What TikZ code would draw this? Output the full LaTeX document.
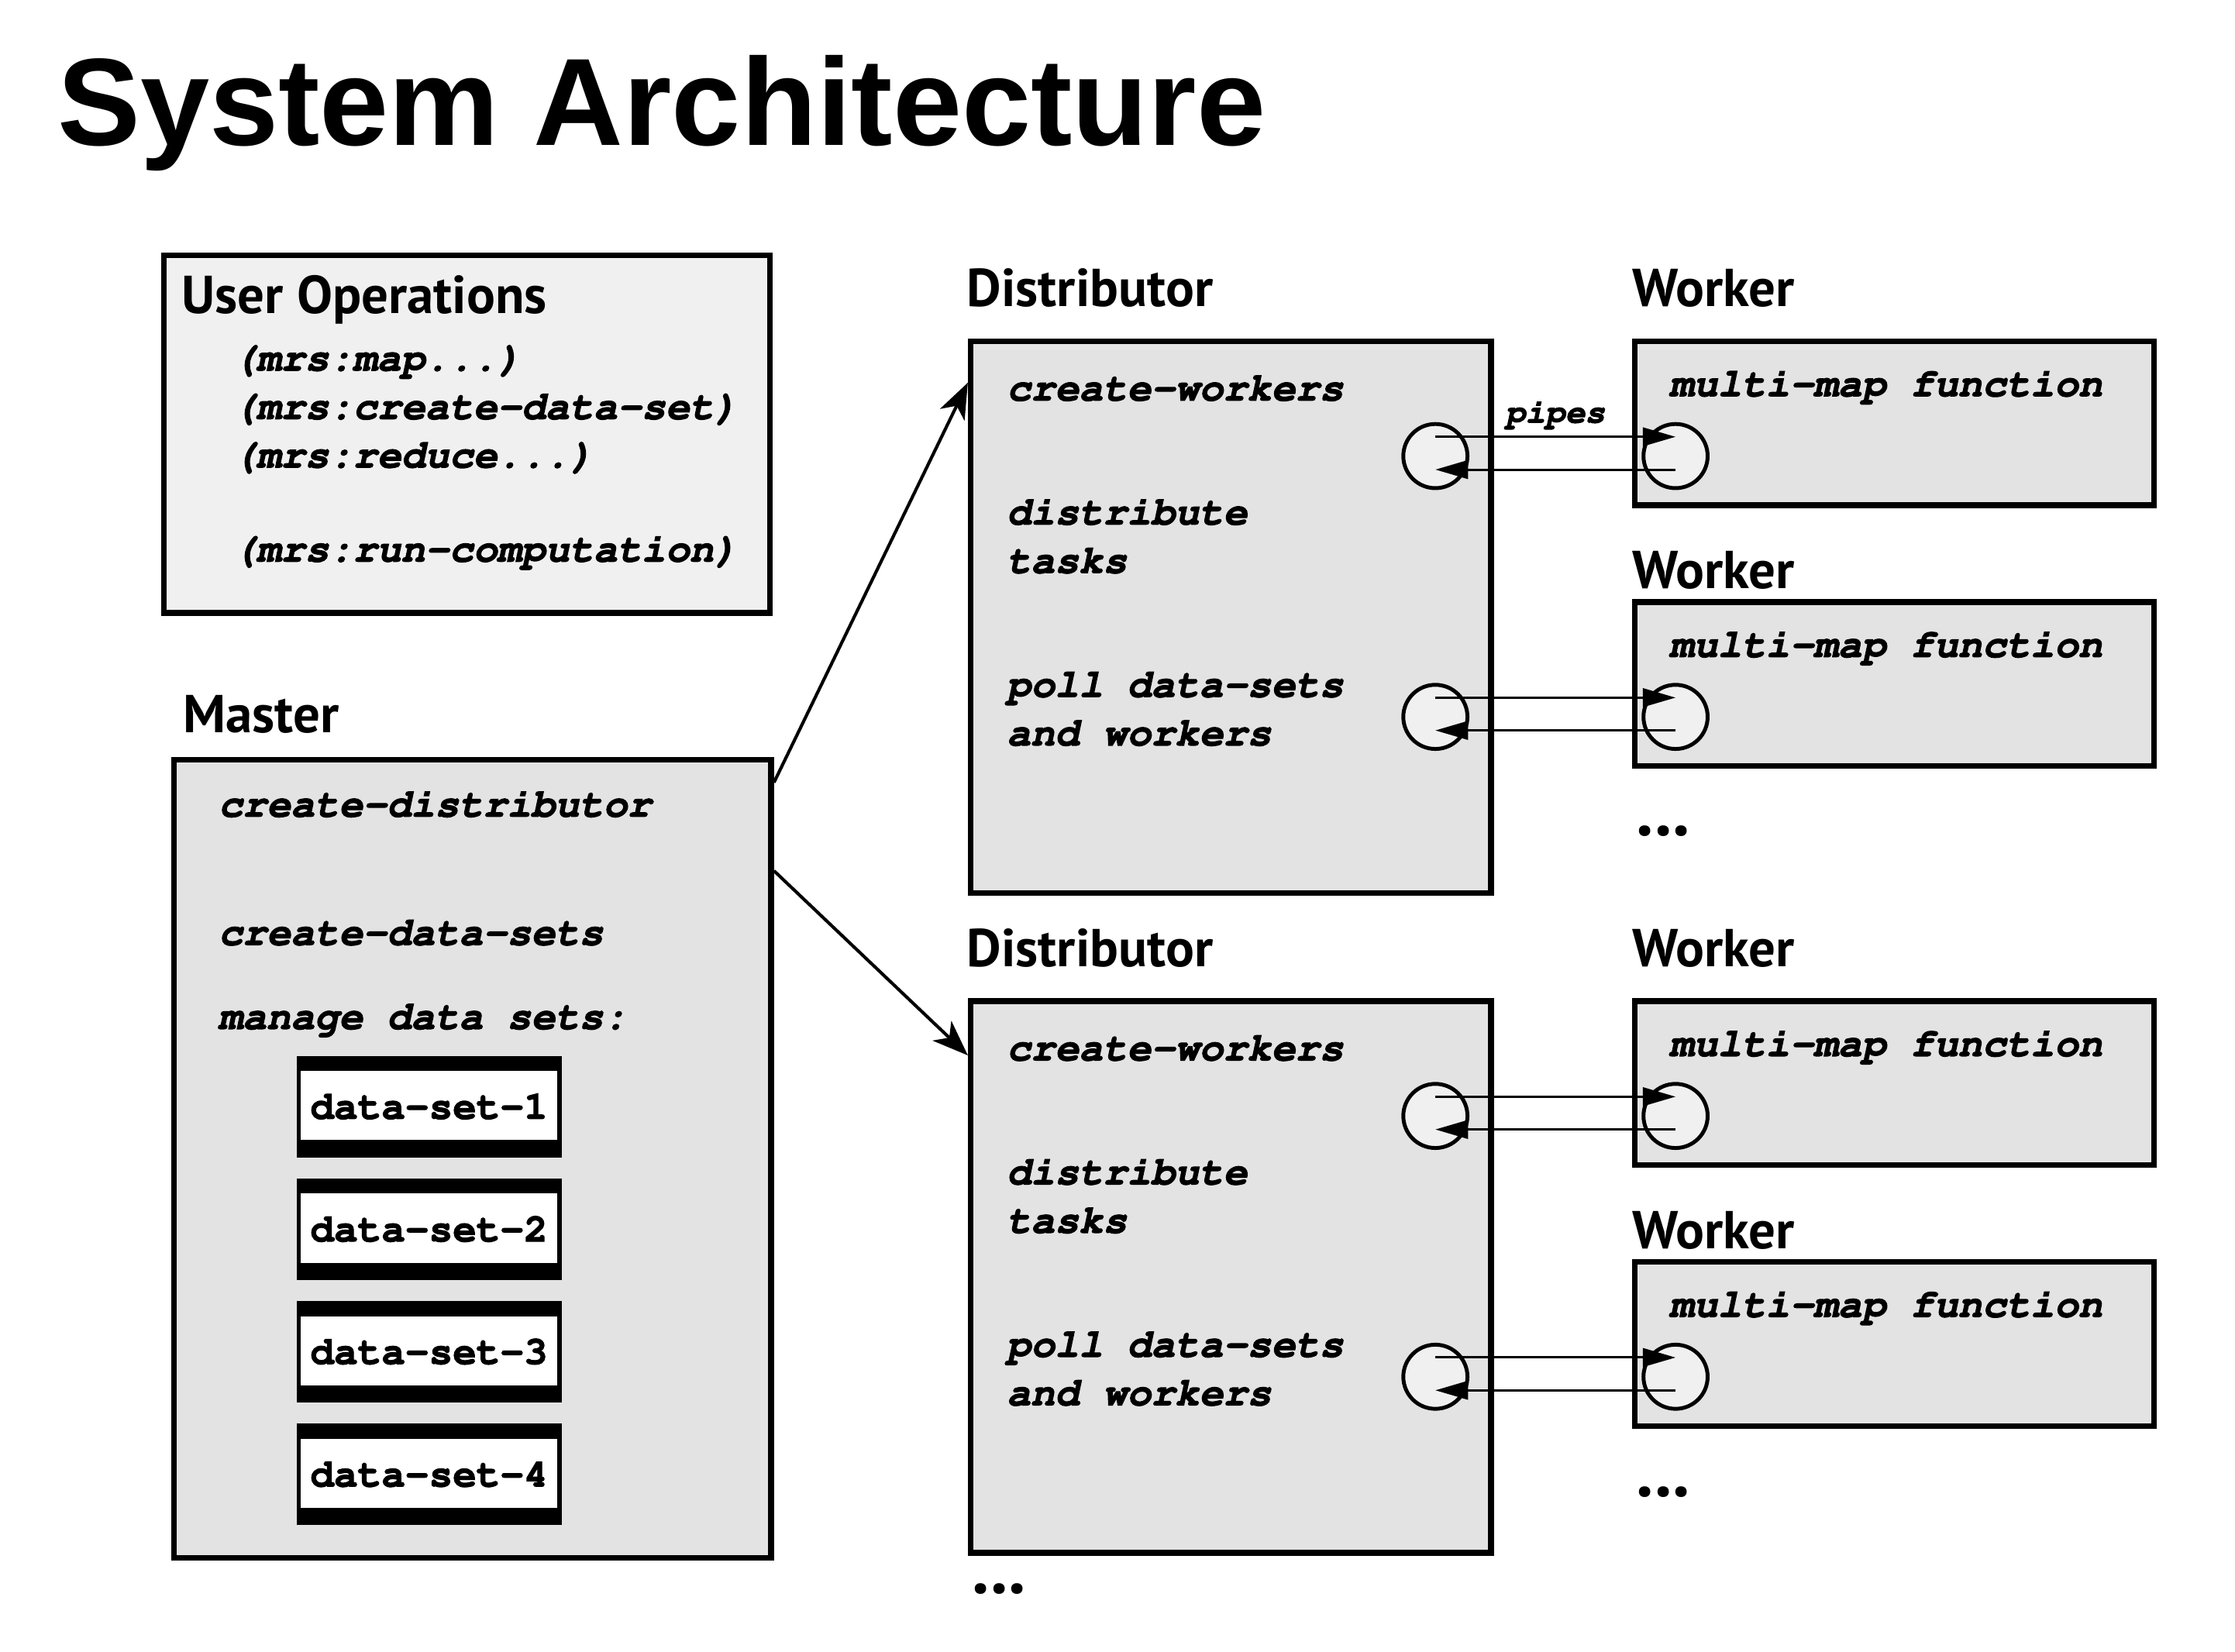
\documentclass[tikz,border=0pt]{standalone}
\usepackage[T1]{fontenc}
\usepackage{fontspec}
\setmainfont{Liberation Sans}
\newfontfamily\headfont{PT Sans}
\newcommand\codeface{\fontencoding{T1}\fontfamily{pcr}\fontseries{b}\fontshape{sl}\selectfont}
\newcommand\dataface{\fontencoding{T1}\fontfamily{pcr}\fontseries{b}\fontshape{n}\selectfont}
\newcommand\heavyon{\special{pdf:literal direct 2 Tr 0.35 w}}
\newcommand\heavyoff{\special{pdf:literal direct 0 Tr}}
\usetikzlibrary{arrows.meta}

\definecolor{boxgray}{gray}{0.89}
\definecolor{opsgray}{gray}{0.94}

\begin{document}
\begin{tikzpicture}[
  box/.style={rectangle,draw,line width=0.08cm,fill=boxgray,anchor=north west,inner sep=0},
  code/.style={anchor=base west,inner sep=0,font=\codeface\fontsize{16}{19}\selectfont,
    execute at begin node=\heavyon,execute at end node=\heavyoff},
  head/.style={anchor=base west,inner sep=0,font=\headfont\bfseries\fontsize{21.3}{24}\selectfont},
  dsbox/.style={rectangle,draw,line width=0.06cm,fill=white,minimum width=3.66cm,minimum height=1.36cm,inner sep=0,
    font=\dataface\fontsize{15.8}{19}\selectfont,execute at begin node=\heavyon,execute at end node=\heavyoff,
    path picture={\fill[black] (path picture bounding box.north west) rectangle ([yshift=-0.18cm]path picture bounding box.north east);
      \fill[black] (path picture bounding box.south west) rectangle ([yshift=0.21cm]path picture bounding box.south east);}},
  port/.style={circle,draw,line width=0.054cm,fill=opsgray,minimum size=0.9cm,inner sep=0},
  more/.style={inner sep=0,font=\headfont\bfseries\fontsize{28}{30}\selectfont},
  pipe/.style={line width=0.033cm,-{Triangle[length=0.46cm,width=0.26cm]}},
  link/.style={line width=0.045cm,-{Stealth[length=0.5cm,width=0.38cm,inset=0.14cm]}}
]
\useasboundingbox (0,0) rectangle (31.36,-23.18);

\node at (0.80,-2.04) [anchor=base west,inner sep=0,font=\bfseries\fontsize{49.6}{56}\selectfont] (title) {System Architecture};

% user operations
\node at (2.26,-3.54) [box,fill=opsgray,minimum width=8.5cm,minimum height=5.02cm] (ops) {};
\node at (2.54,-4.40) [head] (opshead) {User Operations};
\node at (3.26,-5.20) [code] (op1) {(mrs:map...)};
\node at (3.26,-5.88) [code] (op2) {(mrs:create-data-set)};
\node at (3.26,-6.56) [code] (op3) {(mrs:reduce...)};
\node at (3.26,-7.88) [code] (op4) {(mrs:run-computation)};

% master
\node at (2.56,-10.28) [head] (masterhead) {Master};
\node at (2.40,-10.62) [box,minimum width=8.38cm,minimum height=11.2cm] (master) {};
\node at (3.06,-11.46) [code] (m1) {create-distributor};
\node at (3.06,-13.26) [code] (m2) {create-data-sets};
\node at (3.06,-14.44) [code] (m3) {manage data sets:};
\node at (6.02,-15.53) [dsbox] (ds1) {data-set-1};
\node at (6.02,-17.25) [dsbox] (ds2) {data-set-2};
\node at (6.02,-18.97) [dsbox] (ds3) {data-set-3};
\node at (6.02,-20.69) [dsbox] (ds4) {data-set-4};

% distributors
\node at (13.56,-4.30) [head] (disthead1) {Distributor};
\node at (13.58,-4.75) [box,minimum width=7.3cm,minimum height=7.74cm] (dist1) {};
\node at (14.12,-5.62) [code] (d1a) {create-workers};
\node at (14.12,-7.36) [code] (d1b) {distribute};
\node at (14.12,-8.04) [code] (d1c) {tasks};
\node at (14.12,-9.78) [code] (d1d) {poll data-sets};
\node at (14.12,-10.46) [code] (d1e) {and workers};

\node at (13.56,-13.56) [head] (disthead2) {Distributor};
\node at (13.58,-14.01) [box,minimum width=7.3cm,minimum height=7.74cm] (dist2) {};
\node at (14.12,-14.88) [code] (d2a) {create-workers};
\node at (14.12,-16.62) [code] (d2b) {distribute};
\node at (14.12,-17.30) [code] (d2c) {tasks};
\node at (14.12,-19.04) [code] (d2d) {poll data-sets};
\node at (14.12,-19.72) [code] (d2e) {and workers};
\node at (14.02,-22.30) [more] (dots3) {...};

% workers
\node at (22.90,-4.30) [head] (workhead1) {Worker};
\node at (22.90,-4.75) [box,minimum width=7.28cm,minimum height=2.3cm] (work1) {};
\node at (23.42,-5.56) [code] (w1) {multi-map function};
\node at (22.90,-8.26) [head] (workhead2) {Worker};
\node at (22.90,-8.41) [box,minimum width=7.28cm,minimum height=2.3cm] (work2) {};
\node at (23.42,-9.22) [code] (w2) {multi-map function};
\node at (23.34,-11.66) [more] (dots1) {...};

\node at (22.90,-13.56) [head] (workhead3) {Worker};
\node at (22.90,-14.01) [box,minimum width=7.28cm,minimum height=2.3cm] (work3) {};
\node at (23.42,-14.82) [code] (w3) {multi-map function};
\node at (22.90,-17.52) [head] (workhead4) {Worker};
\node at (22.90,-17.67) [box,minimum width=7.28cm,minimum height=2.3cm] (work4) {};
\node at (23.42,-18.48) [code] (w4) {multi-map function};
\node at (23.34,-20.94) [more] (dots2) {...};

% pipe ends
\node at (20.14,-6.40) [port] (dc1) {};
\node at (20.14,-10.06) [port] (dc2) {};
\node at (20.14,-15.66) [port] (dc3) {};
\node at (20.14,-19.32) [port] (dc4) {};
\node at (23.51,-6.40) [port] (wc1) {};
\node at (23.51,-10.06) [port] (wc2) {};
\node at (23.51,-15.66) [port] (wc3) {};
\node at (23.51,-19.32) [port] (wc4) {};
\node at (21.12,-5.93) [code,font=\codeface\fontsize{13.2}{15}\selectfont] (pipes) {pipes};

\draw[pipe] ([yshift=0.27cm]dc1.center) -- ([yshift=0.27cm]wc1.center);
\draw[pipe] ([yshift=-0.19cm]wc1.center) -- ([yshift=-0.19cm]dc1.center);
\draw[pipe] ([yshift=0.27cm]dc2.center) -- ([yshift=0.27cm]wc2.center);
\draw[pipe] ([yshift=-0.19cm]wc2.center) -- ([yshift=-0.19cm]dc2.center);
\draw[pipe] ([yshift=0.27cm]dc3.center) -- ([yshift=0.27cm]wc3.center);
\draw[pipe] ([yshift=-0.19cm]wc3.center) -- ([yshift=-0.19cm]dc3.center);
\draw[pipe] ([yshift=0.27cm]dc4.center) -- ([yshift=0.27cm]wc4.center);
\draw[pipe] ([yshift=-0.19cm]wc4.center) -- ([yshift=-0.19cm]dc4.center);

\draw[link] ([yshift=-0.36cm]master.north east) -- ([yshift=-0.62cm]dist1.north west);
\draw[link] ([yshift=-1.6cm]master.north east) -- ([yshift=-0.8cm]dist2.north west);
\end{tikzpicture}
\end{document}
